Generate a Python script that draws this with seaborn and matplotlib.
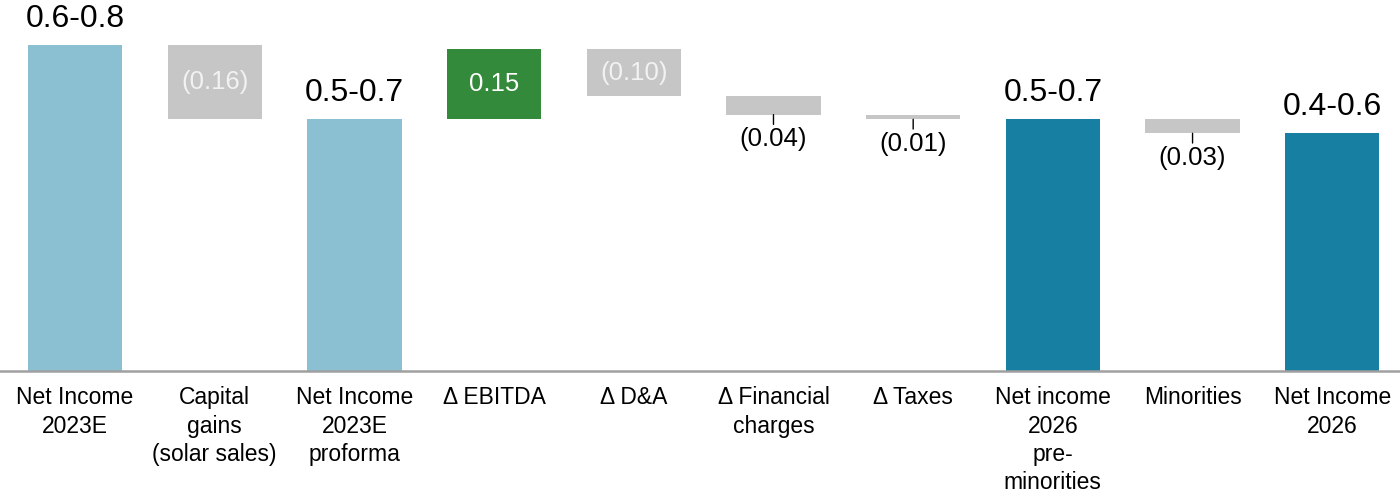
import numpy as np
import pandas as pd
import matplotlib
matplotlib.use("Agg")
import matplotlib.pyplot as plt
import seaborn as sns

# Bridge from 2023E net income to 2026 net income (EUR bn)
categories = [
    "Net Income\n2023E",
    "Capital\ngains\n(solar sales)",
    "Net Income\n2023E\nproforma",
    "Δ EBITDA",
    "Δ D&A",
    "Δ Financial\ncharges",
    "Δ Taxes",
    "Net income\n2026\npre-\nminorities",
    "Minorities",
    "Net Income\n2026",
]
kinds = ["total", "delta", "total", "delta", "delta", "delta", "delta", "total", "delta", "total"]
values = [0.70, -0.16, 0.54, 0.15, -0.10, -0.04, -0.01, 0.54, -0.03, 0.51]
total_labels = ["0.6-0.8", None, "0.5-0.7", None, None, None, None, "0.5-0.7", None, "0.4-0.6"]

LIGHT_BLUE = "#8BBFD2"
DARK_TEAL = "#177FA1"
GREY = "#C6C6C6"
GREEN = "#338A3A"

# Waterfall geometry: running level, bar bottoms and heights
bottoms, heights, colors = [], [], []
level = 0.0
for i, (k, v) in enumerate(zip(kinds, values)):
    if k == "total":
        level = v
        bottoms.append(0.0)
        heights.append(v)
        colors.append(LIGHT_BLUE if i < 3 else DARK_TEAL)
    else:
        start = level
        level = level + v
        bottoms.append(min(start, level))
        heights.append(abs(v))
        colors.append(GREEN if v > 0 else GREY)

df = pd.DataFrame({"category": categories, "height": heights, "bottom": bottoms})

sns.set_theme(style="white")
plt.rcParams["font.family"] = ["Liberation Sans", "DejaVu Sans"]

fig = plt.figure(figsize=(14, 4.94), dpi=100)
ax = fig.add_axes([0.0, 0.249, 1.0, 0.751])

sns.barplot(data=df, x="category", y="height", order=categories,
            bottom=df["bottom"].to_numpy(), width=0.675, errorbar=None,
            color=GREY, saturation=1, linewidth=0, ax=ax)
for patch, c in zip(ax.patches, colors):
    patch.set_facecolor(c)
    patch.set_edgecolor("none")

ax.set_xlim(-0.537, 9.485)
ax.set_ylim(0, 0.796)

# Value labels
for i, (k, v) in enumerate(zip(kinds, values)):
    b, h = bottoms[i], heights[i]
    if k == "total":
        ax.annotate(total_labels[i], (i, b + h), xytext=(0, 8), textcoords="offset points",
                    ha="center", va="bottom", fontsize=23, color="black")
    else:
        txt = f"{v:.2f}" if v > 0 else f"({abs(v):.2f})"
        if abs(v) >= 0.1:
            ax.text(i, b + h / 2, txt, ha="center", va="center", fontsize=18.5,
                    color="white" if v > 0 else "#F2F2F2")
        else:
            ax.annotate("", xy=(i, b), xytext=(0, -7), textcoords="offset points",
                        arrowprops=dict(arrowstyle="-", color="black", lw=1.0,
                                        shrinkA=0, shrinkB=0))
            ax.annotate(txt, (i, b), xytext=(0, -9), textcoords="offset points",
                        ha="center", va="top", fontsize=18.5, color="black")

# Axis styling
for side in ["top", "right", "left"]:
    ax.spines[side].set_visible(False)
ax.spines["bottom"].set_color("#A0A0A0")
ax.spines["bottom"].set_linewidth(1.8)
ax.set_yticks([])
ax.set_xlabel("")
ax.set_ylabel("")
ax.tick_params(axis="x", length=0, pad=11, labelsize=16.5, colors="black")
for lbl in ax.get_xticklabels():
    lbl.set_linespacing(1.3)
    lbl.set_family(["Liberation Sans Narrow", "Liberation Sans", "DejaVu Sans"])

fig.savefig("out.png", dpi=100, facecolor="white")
